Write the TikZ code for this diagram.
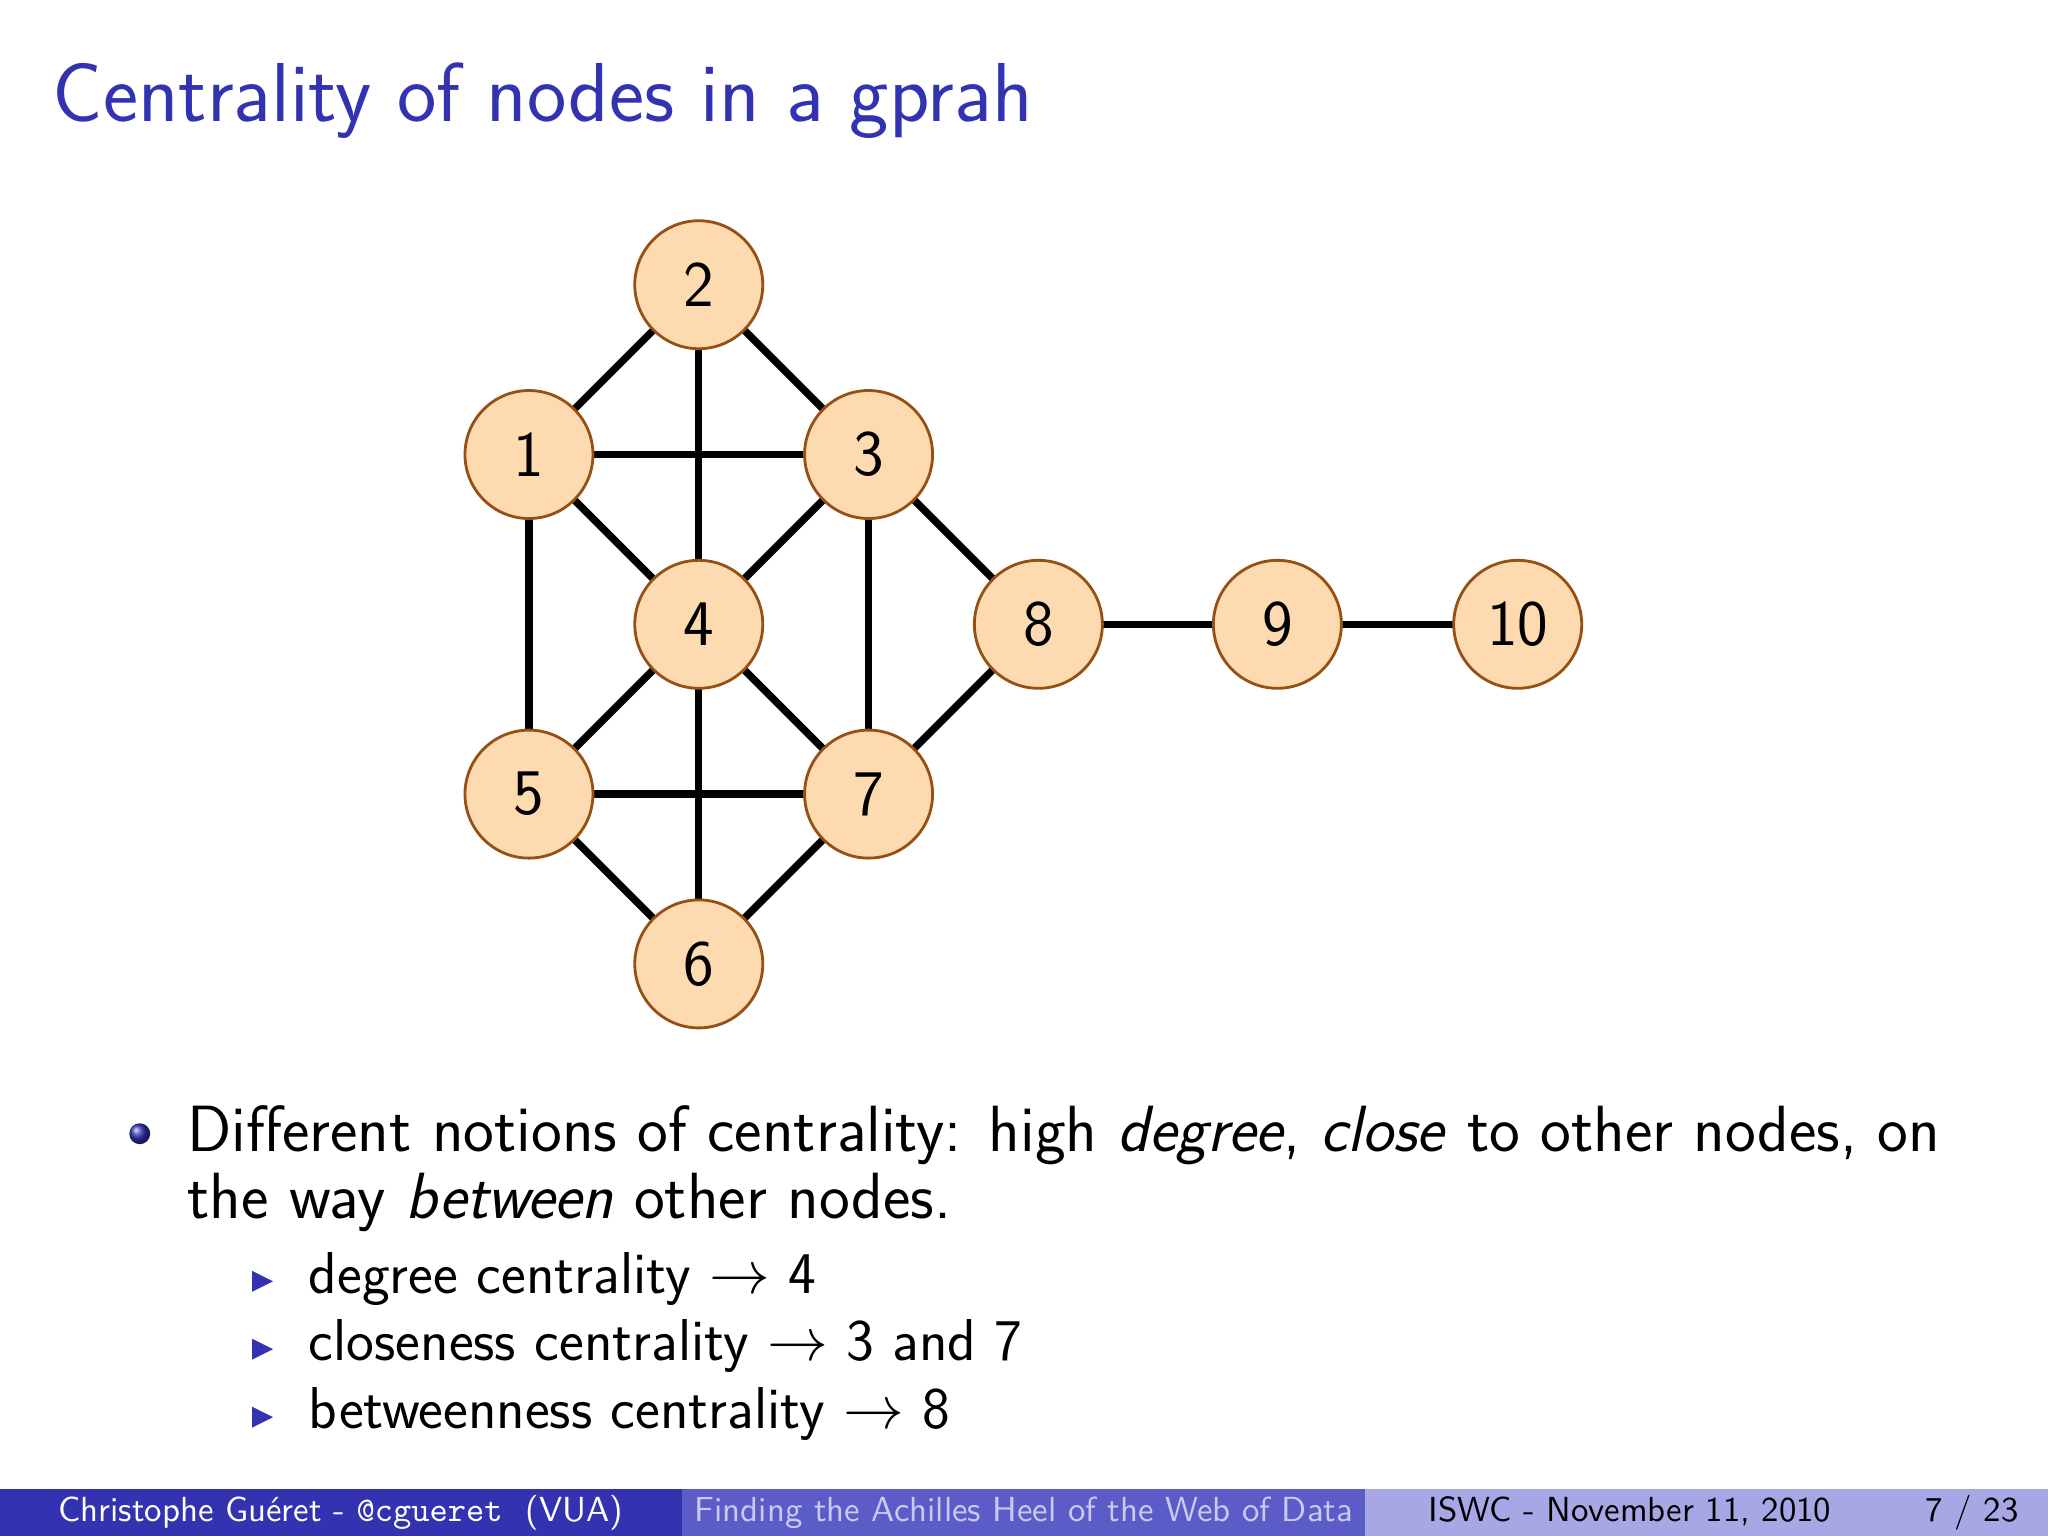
\documentclass[tikz,border=0pt]{standalone}
\begin{document}
\definecolor{bblue}{RGB}{51,51,178}
\definecolor{bmid}{RGB}{92,92,200}
\definecolor{blight}{RGB}{167,167,230}
\definecolor{nfill}{RGB}{253,218,176}
\definecolor{nline}{RGB}{150,80,20}
\begin{tikzpicture}[x=0.013061cm,y=-0.013061cm,
  v/.style={circle,draw=nline,line width=0.8pt,fill=nfill,minimum size=1.28cm,inner sep=0pt,font=\sffamily\fontsize{18.5}{20}\selectfont},
  e/.style={line width=2.1pt},
  txt/.style={anchor=base west,inner sep=0pt,font=\sffamily\fontsize{18.6}{21}\selectfont},
  sub/.style={anchor=base west,inner sep=0pt,font=\sffamily\fontsize{16.8}{19}\selectfont},
  foot/.style={anchor=base,inner sep=0pt,font=\sffamily\fontsize{9.9}{11}\selectfont}]
\useasboundingbox[fill=white] (0,0) rectangle (1568,1176);
\node[anchor=base west,inner sep=0pt,text=bblue,font=\sffamily\fontsize{23.8}{28}\selectfont] (title) at (40,93) {Centrality of nodes in a gprah};
\coordinate (p2) at (535,218); \coordinate (p1) at (405,348); \coordinate (p3) at (665,348);
\coordinate (p4) at (535,478); \coordinate (p8) at (795,478); \coordinate (p9) at (978,478);
\coordinate (p10) at (1162,478); \coordinate (p5) at (405,608); \coordinate (p7) at (665,608);
\coordinate (p6) at (535,738);
\foreach \a/\b in {1/2,2/3,1/3,2/4,1/4,3/4,1/5,3/7,3/8,4/5,4/7,4/6,5/7,5/6,6/7,7/8,8/9,9/10}
  \draw[e] (p\a) -- (p\b);
\foreach \i in {1,...,10} \node[v] (n\i) at (p\i) {\i};
\shade[ball color=bblue] (107,868) circle (8);
\node[txt] (l1) at (143,882) {Different notions of centrality: high \textit{degree}, \textit{close} to other nodes, on};
\node[txt] (l2) at (143,933) {the way \textit{between} other nodes.};
\foreach \y/\t in {990/{degree centrality $\rightarrow$ 4},1042/{closeness centrality $\rightarrow$ 3 and 7},1094/{betweenness centrality $\rightarrow$ 8}}{
  \fill[bblue] (193,\y-17) -- (209,\y-9) -- (193,\y-1) -- cycle;
  \node[sub] at (236,\y) {\t};
}
\fill[bblue] (0,1140) rectangle (522,1176);
\fill[bmid] (522,1140) rectangle (1045,1176);
\fill[blight] (1045,1140) rectangle (1568,1176);
\node[foot,text=white] (f1) at (261,1165) {Christophe Gu\'eret - {\ttfamily @cgueret} \ (VUA)};
\node[foot,text=blight!60!white] (f2) at (784,1165) {Finding the Achilles Heel of the Web of Data};
\node[foot,text=black] (f3) at (1248,1165) {ISWC - November 11, 2010};
\node[foot,text=black] (f4) at (1510,1165) {7 / 23};
\end{tikzpicture}
\end{document}
